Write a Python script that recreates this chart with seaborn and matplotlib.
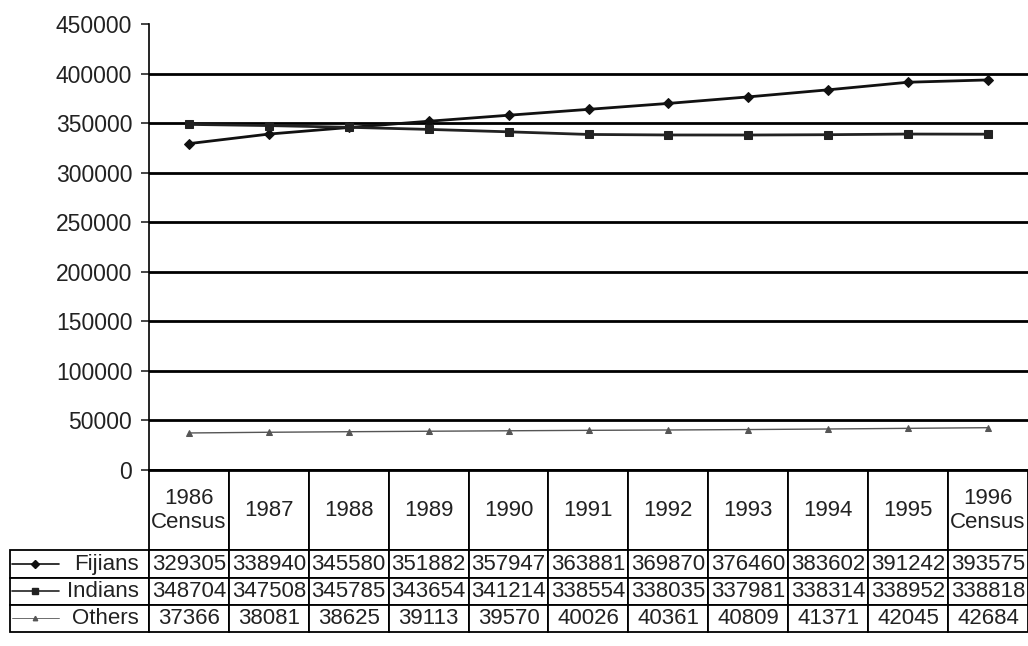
import matplotlib
matplotlib.use('Agg')
import matplotlib.pyplot as plt
import seaborn as sns
import pandas as pd

years = ['1986\nCensus', '1987', '1988', '1989', '1990', '1991', '1992',
         '1993', '1994', '1995', '1996\nCensus']
groups = ['Fijians', 'Indians', 'Others']
fijians = [329305, 338940, 345580, 351882, 357947, 363881, 369870, 376460, 383602, 391242, 393575]
indians = [348704, 347508, 345785, 343654, 341214, 338554, 338035, 337981, 338314, 338952, 338818]
others = [37366, 38081, 38625, 39113, 39570, 40026, 40361, 40809, 41371, 42045, 42684]
yticks = [0, 50000, 100000, 150000, 200000, 250000, 300000, 350000, 400000, 450000]


def main():
    sns.set_style('white')
    plt.rcParams['font.family'] = ['Liberation Sans', 'DejaVu Sans']

    d = pd.DataFrame({
        'pos': list(range(len(years))) * 3,
        'group': [g for g in groups for _ in years],
        'population': fijians + indians + others,
    })

    fig = plt.figure(figsize=(10.28, 6.46), dpi=100)
    ax = fig.add_axes([149 / 1028, 1 - 470 / 646, 879 / 1028, 446 / 646])

    styles = {
        'Fijians': dict(marker='D', markersize=5.5, linewidth=2.0, color='#111111'),
        'Indians': dict(marker='s', markersize=6, linewidth=2.0, color='#222222'),
        'Others': dict(marker='^', markersize=4, linewidth=1.0, color='#555555'),
    }
    for g in groups:
        sns.lineplot(data=d[d['group'] == g], x='pos', y='population', ax=ax,
                     markeredgecolor=styles[g]['color'], zorder=3, **styles[g])

    ax.set_xlim(-0.5, len(years) - 0.5)
    ax.set_ylim(0, 450000)
    ax.set_yticks(yticks)
    ax.set_yticklabels([str(v) for v in yticks], fontsize=16.5, color='#222222')
    ax.set_xticks([])
    ax.set_xlabel(None)
    ax.set_ylabel(None)
    ax.tick_params(axis='y', direction='out', length=6, width=1.2, left=True, pad=6)
    ax.grid(axis='y', color='black', linewidth=2)
    ax.get_ygridlines()[-1].set_visible(False)
    for s in ['top', 'right']:
        ax.spines[s].set_visible(False)
    ax.spines['left'].set_linewidth(1.2)
    ax.spines['left'].set_color('black')
    ax.spines['bottom'].set_linewidth(2)
    ax.spines['bottom'].set_color('black')

    # data table under the plot
    series = [fijians, indians, others]
    cell_text = [[''] + years] + [[g] + [str(v) for v in vals] for g, vals in zip(groups, series)]
    tbl = ax.table(cellText=cell_text, cellLoc='center',
                   bbox=[-139 / 879, -162 / 446, 1018 / 879, 162 / 446])
    tbl.auto_set_font_size(False)
    tbl.set_fontsize(16)
    for (r, c), cell in tbl.get_celld().items():
        cell.set_width(139 if c == 0 else 80)
        cell.set_height(80 if r == 0 else 27)
        cell.set_linewidth(1.3)
        cell.set_edgecolor('black')
        cell.get_text().set_color('#222222')
        if r == 0 and c == 0:
            cell.visible_edges = 'open'
        if c == 0 and r > 0:
            cell.get_text().set_ha('right')
            cell._loc = 'right'
            cell.PAD = 0.07

    # legend keys in the label column
    row_y = [-93.5 / 446, -120.5 / 446, -147.5 / 446]
    x0, x1 = -137 / 879, -90 / 879
    for g, y in zip(groups, row_y):
        st = styles[g]
        ax.plot([x0, (x0 + x1) / 2, x1], [y, y, y], transform=ax.transAxes, clip_on=False,
                color=st['color'], linewidth=st['linewidth'] * 0.6, marker=st['marker'],
                markersize=st['markersize'] * 0.8, markevery=[1], zorder=5)

    fig.savefig('out.png', dpi=100)


if __name__ == '__main__':
    main()
